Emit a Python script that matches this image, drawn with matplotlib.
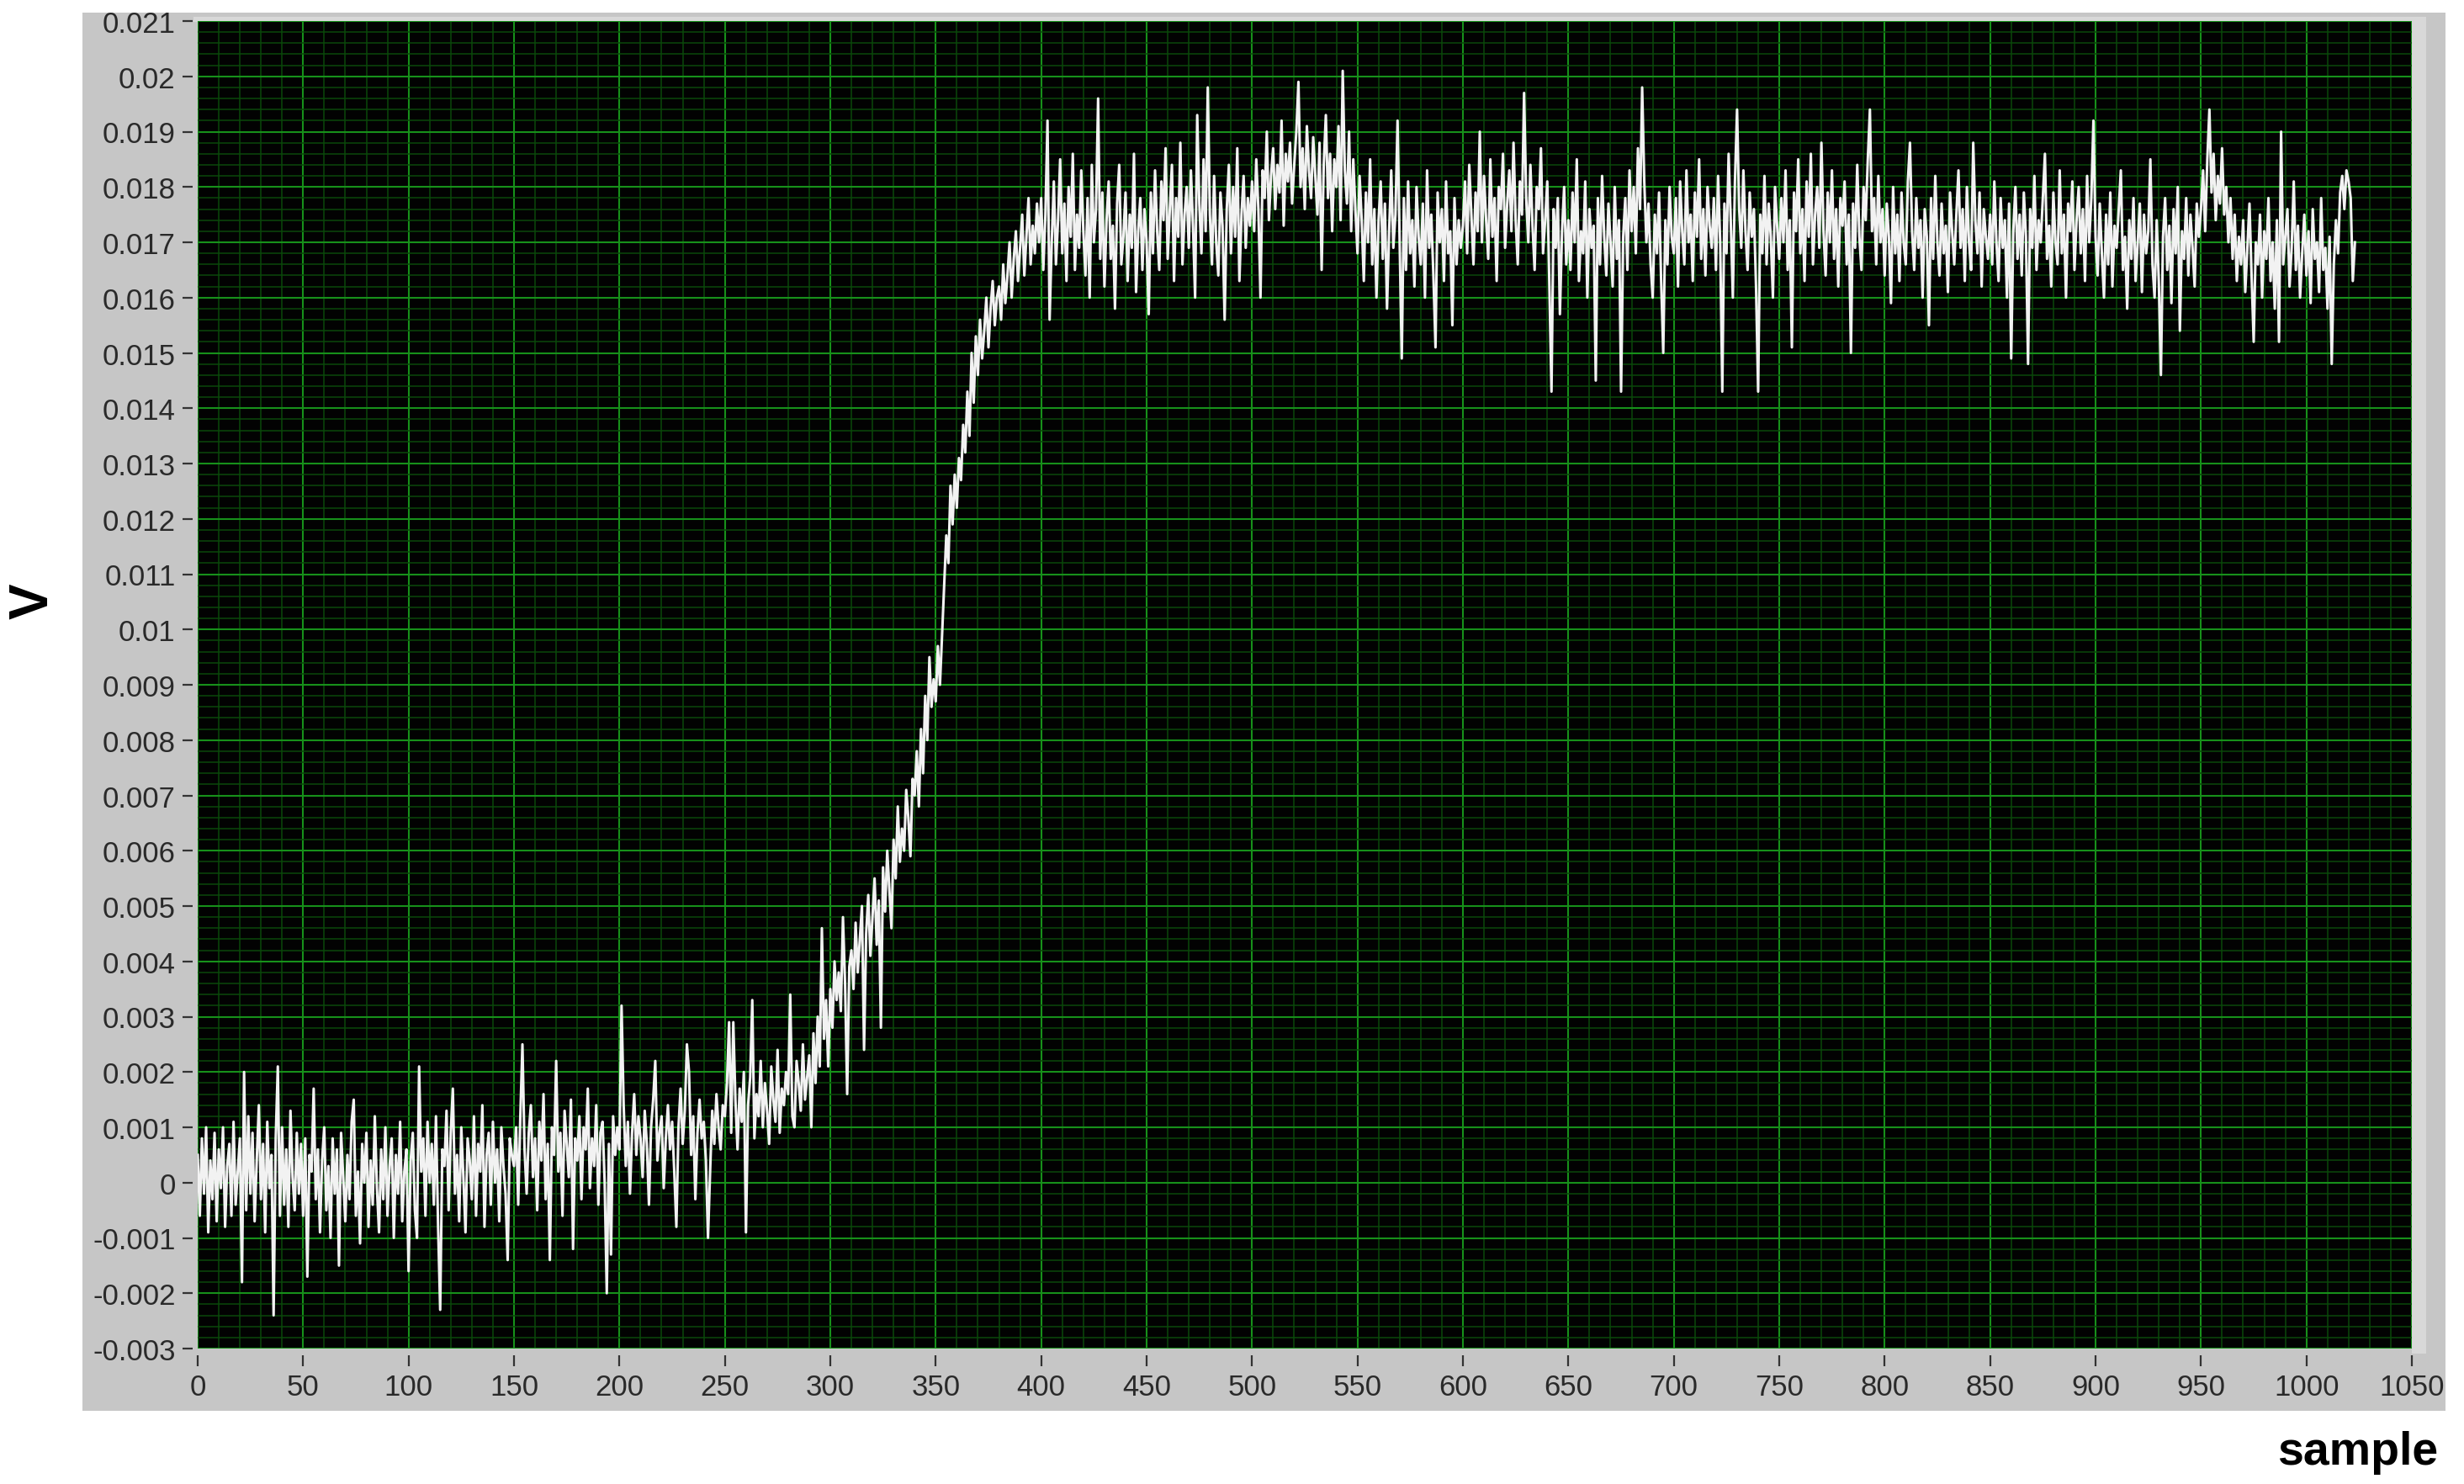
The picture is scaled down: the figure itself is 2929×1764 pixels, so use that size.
import numpy as np
import matplotlib
matplotlib.use("Agg")
import matplotlib.pyplot as plt
from matplotlib.patches import Rectangle
from matplotlib.ticker import MultipleLocator, FuncFormatter

# samples, in units of 1e-4 V
baseline_v = [
    5, -6, 8, -2, 10, -9, 4, -3, 9, -7,
    6, -1, 10, -8, 3, 7, -6, 11, -4, 2,
    8, -18, 20, -5, 12, -2, 9, -7, 4, 14,
    -3, 7, -9, 11, -1, 5, -24, 8, 21, -6,
    10, -4, 6, -8, 13, 1, -5, 9, -2, 7,
    -6, 8, -17, 5, 2, 17, -3, 6, -9, 4,
    10, -5, 3, -10, 8, -2, 6, -15, 9, 1,
    -7, 5, -3, 11, 15, -6, 2, -11, 7, 0,
    9, -8, 4, -4, 12, -1, -9, 6, -3, 10,
    -6, 3, 8, -10, 5, -2, 11, -7, 2, 6,
    -16, 4, 9, -5, -10, 21, 2, 8, -6, 11,
    0, 7, -4, 12, -8, -23, 6, 3, 13, -5,
    9, 17, -2, 5, -7, 10, 1, -9, 8, 4,
    -3, 12, -6, 7, 2, 14, -8, 5, 9, -4,
    11, 0, 6, -7, 10, 3, -2, -14, 8, 5,
    3, 10, -4, 12, 25, 6, -2, 9, 14, 1,
    8, -5, 11, 4, 16, -3, 7, -14, 10, 5,
    22, 2, 9, -6, 13, 7, 1, 15, -12, 8,
    4, 12, -3, 10, 6, 17, -1, 8, 3, 14,
    -4, 9, 11, 0, -20, 7, -13, 12, 5, 10,
    6, 32, 14, 3, 11, -2, 9, 16, 5, 12,
    8, 1, 13, 7, -4, 10, 15, 22, 4, 9,
    12, -1, 8, 14, 6, 11, 2, -8, 10, 17,
    7, 13, 25, 20, 5, 12, -3, 9, 15, 8,
    11, 4, -10, 2, 13, 7, 16, 10, 6, 14,
]

rise_v = [
    12, 18, 29, 9, 29, 15, 6, 17, 11, 20,
    -9, 14, 19, 33, 8, 16, 12, 22, 10, 18,
    13, 7, 21, 15, 11, 24, 9, 17, 14, 20,
    16, 34, 12, 10, 22, 18, 13, 25, 15, 19,
    23, 10, 27, 18, 30, 21, 46, 26, 33, 21,
    35, 28, 40, 33, 38, 31, 48, 36, 16, 39,
    42, 35, 47, 38, 44, 50, 24, 45, 52, 41,
    48, 55, 43, 51, 28, 57, 49, 60, 53, 46,
    62, 55, 68, 58, 64, 60, 71, 66, 59, 73,
    70, 78, 68, 82, 74, 88, 80, 95, 86, 91,
    87, 97, 90, 99, 108, 117, 112, 126, 119, 128,
    122, 131, 127, 137, 132, 143, 135, 150, 141, 153,
    146, 156, 149, 154, 160, 151, 158, 163, 155, 160,
    162, 156, 166, 159, 164, 170, 160, 167, 172, 163,
    169, 175, 164, 171, 178, 166, 173, 168, 177, 170,
]

plateau_a = [
    178, 165, 175, 192, 156, 170, 181, 166, 174, 185,
    168, 177, 163, 180, 171, 186, 165, 175, 169, 183,
    172, 164, 178, 160, 184, 170, 176, 196, 167, 179,
    162, 174, 181, 167, 173, 158, 177, 184, 166, 171,
    179, 163, 175, 169, 186, 161, 172, 178, 165, 176,
    170, 157, 179, 168, 183, 172, 165, 181, 174, 187,
    167, 176, 184, 163, 178, 171, 188, 166, 175, 180,
    169, 183, 173, 160, 193, 177, 168, 185, 172, 198,
    175, 166, 182, 170, 164, 179, 173, 156, 176, 184,
    168, 180, 171, 187, 163, 175, 182, 169, 178, 173,
    181, 172, 185, 176, 160, 183, 178, 190, 174, 182,
    187, 176, 184, 179, 192, 173, 186, 181, 188, 177,
    184, 190, 199, 180, 187, 176, 191, 183, 178, 189,
    182, 175, 188, 165, 184, 193, 178, 186, 172, 185,
    180, 191, 174, 201, 183, 177, 190, 172, 185, 176,
    168, 182, 174, 163, 179, 170, 185, 166, 176, 160,
    174, 181, 167, 177, 158, 172, 183, 169, 175, 192,
    170, 149, 178, 165, 181, 168, 174, 162, 180, 171,
    166, 177, 160, 183, 169, 175, 164, 151, 179, 170,
    176, 163, 181, 168, 172, 155, 178, 166, 174, 169,
    173, 181, 168, 184, 175, 166, 179, 172, 190, 170,
    182, 174, 167, 185, 171, 178, 163, 180, 176, 186,
    169, 177, 183, 172, 188, 174, 166, 181, 175, 197,
    178, 170, 184, 173, 165, 180, 176, 187, 168, 174,
    181, 162, 143, 176, 169, 178, 157, 172, 180, 166,
    174, 165, 179, 170, 185, 163, 172, 168, 181, 160,
    176, 169, 173, 145, 178, 166, 182, 171, 164, 177,
    170, 162, 180, 167, 174, 143, 171, 178, 165, 183,
    172, 180, 168, 187, 176, 198, 181, 170, 177, 166,
    160, 175, 168, 179, 163, 150, 174, 166, 180, 171,
]

plateau_b = [
    168, 178, 162, 181, 172, 166, 183, 170, 175, 163,
    179, 171, 185, 167, 176, 164, 180, 173, 169, 178,
    165, 182, 170, 143, 177, 168, 186, 174, 160, 181,
    194, 176, 169, 183, 172, 165, 179, 171, 176, 162,
    143, 175, 168, 182, 166, 177, 171, 160, 180, 173,
    167, 178, 170, 183, 165, 174, 151, 179, 172, 185,
    168, 176, 163, 181, 171, 186, 166, 175, 180, 169,
    188, 172, 164, 179, 170, 183, 167, 176, 162, 178,
    173, 181, 166, 175, 150, 177, 169, 184, 171, 165,
    180, 174, 185, 194, 172, 178, 166, 182, 170, 176,
    164, 177, 171, 159, 180, 168, 175, 163, 179, 170,
    166, 181, 188, 172, 165, 178, 169, 174, 160, 176,
    171, 155, 178, 167, 182, 170, 164, 177, 168, 173,
    161, 179, 172, 166, 175, 183, 169, 176, 163, 180,
    170, 165, 188, 174, 168, 179, 162, 176, 171, 167,
    175, 166, 181, 170, 163, 178, 169, 174, 160, 177,
    149, 172, 180, 167, 175, 164, 179, 171, 148, 176,
    169, 182, 165, 174, 170, 178, 186, 167, 173, 162,
    179, 170, 166, 183, 168, 175, 160, 177, 172, 181,
    165, 174, 180, 168, 176, 163, 182, 170, 178, 192,
    171, 164, 177, 168, 160, 175, 166, 179, 162, 173,
    169, 176, 183, 165, 171, 158, 174, 167, 178, 163,
    170, 177, 161, 175, 168, 172, 185, 166, 160, 174,
    163, 146, 171, 178, 165, 173, 159, 176, 168, 180,
    154, 172, 167, 178, 164, 175, 169, 162, 177, 171,
    176, 183, 172, 185, 194, 179, 186, 174, 182, 177,
    187, 175, 180, 170, 178, 167, 175, 163, 171, 166,
    174, 161, 169, 177, 164, 152, 170, 166, 175, 160,
    172, 167, 178, 163, 170, 158, 174, 152, 190, 166,
    171, 176, 162, 169, 181, 165, 173, 160, 168, 175,
    164, 172, 159, 176, 167, 170, 161, 178, 165, 169,
    158, 171, 148, 166, 174, 168, 179, 182, 176, 183,
    181, 178, 163, 170,
]

volts = np.array(baseline_v + rise_v + plateau_a + plateau_b) * 1e-4
samples = np.arange(len(volts))

W, H = 2929, 1765
fig = plt.figure(figsize=(W / 100, H / 100), dpi=100, facecolor='white')

def px_box(x0, y0, x1, y1):
    # pixel box (top-left origin) -> figure fraction rect
    return [x0 / W, 1 - y1 / H, (x1 - x0) / W, (y1 - y0) / H]

def panel(x0, y0, x1, y1, color):
    b = px_box(x0, y0, x1, y1)
    fig.patches.append(Rectangle((b[0], b[1]), b[2], b[3], transform=fig.transFigure,
                                 facecolor=color, edgecolor='none', zorder=-10))

# grey LabVIEW style panel
panel(98, 16, 2907, 1678, '#c6c6c6')
panel(2867, 22, 2884, 1610, '#d8d8d8')
panel(230, 21, 2884, 27, '#d8d8d8')

ax = fig.add_axes(px_box(235, 26, 2867, 1604))
ax.set_zorder(5)
ax.set_facecolor('#020202')
ax.plot(samples, volts, color='#f2f2f2', lw=2.2, zorder=3)

ax.set_xlim(0, 1050)
ax.set_ylim(-0.003, 0.021)
ax.xaxis.set_major_locator(MultipleLocator(50))
ax.xaxis.set_minor_locator(MultipleLocator(10))
ax.yaxis.set_major_locator(MultipleLocator(0.001))
ax.yaxis.set_minor_locator(MultipleLocator(0.0002))

def fmt(v, pos):
    r = round(v, 3)
    if r == 0:
        return '0'
    return f'{r:g}'

ax.yaxis.set_major_formatter(FuncFormatter(fmt))

ax.grid(which='minor', color='#0a480a', lw=1.1, zorder=1)
ax.grid(which='major', color='#17901a', lw=1.5, zorder=2)
ax.set_axisbelow(True)

for s in ax.spines.values():
    s.set_visible(False)
ax.spines['left'].set_position(('outward', 4))
ax.spines['bottom'].set_position(('outward', 6))

tick_font = ['Liberation Sans Narrow', 'Liberation Sans']
ax.tick_params(which='major', direction='out', length=9, width=1.6,
               color='#333333', labelcolor='#2a2a2a', labelsize=25, pad=6)
ax.tick_params(which='minor', length=0)
for lab in ax.get_xticklabels() + ax.get_yticklabels():
    lab.set_family(tick_font)

fig.text(40 / W, 1 - 715 / H, 'V', rotation=90, ha='center', va='center',
         fontsize=46, fontweight='bold', family='Liberation Sans', color='black')
fig.text(2898 / W, 1 - 1727 / H, 'sample', ha='right', va='center',
         fontsize=40, fontweight='bold', family='Liberation Sans', color='black')

fig.savefig('out.png', dpi=100, facecolor='white')
